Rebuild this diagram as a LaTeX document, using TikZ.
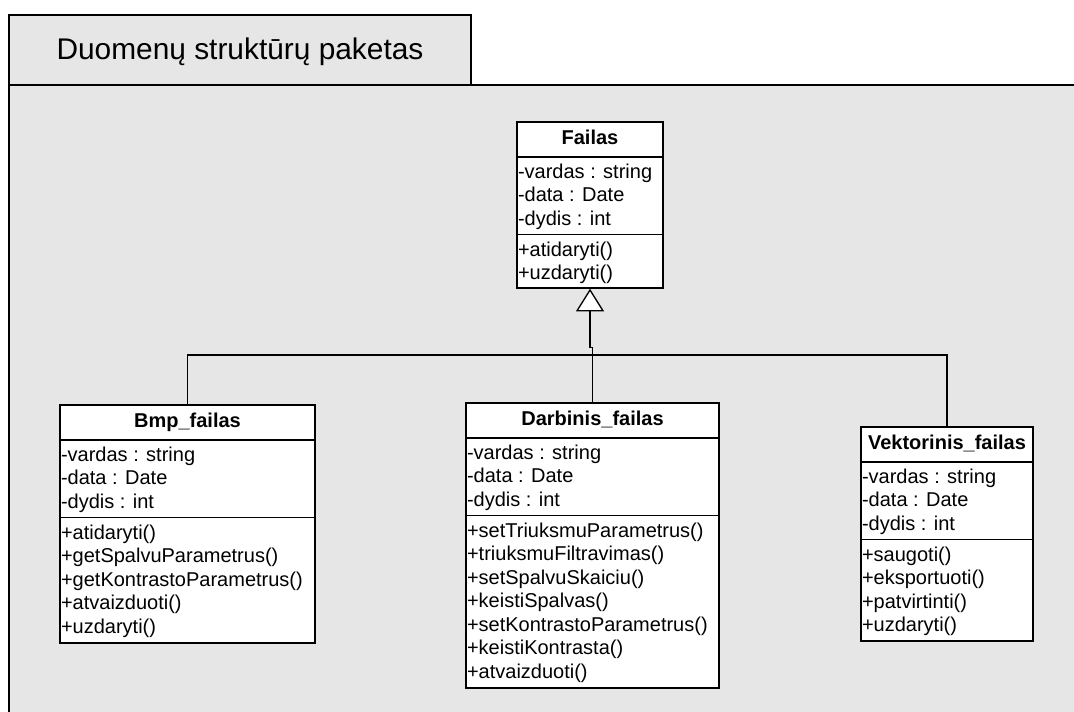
\documentclass[tikz,border=0pt]{standalone}
\usepackage{fontspec}
\setmainfont{Liberation Sans}
\usetikzlibrary{calc,fit,arrows.meta}

\definecolor{pkggray}{HTML}{E6E6E6}

\tikzset{
  pkgframe/.style={draw=black, fill=pkggray, line width=1.1pt, inner sep=0pt},
  classbox/.style={draw=black, fill=white, line width=1.1pt, inner sep=0pt},
  classline/.style={draw=black, line width=1.1pt},
  classname/.style={inner sep=0pt, font=\fontsize{15}{18}\selectfont\bfseries},
  member/.style={inner sep=0pt, anchor=base west, font=\fontsize{15}{18}\selectfont},
  link/.style={draw=black, line width=1pt},
  generalization/.style={link, -{Triangle[fill=white, width=21pt, length=17pt, line width=1pt]}}
}

% \umlclass{id}{left}{top}{right}{bottom}{name}{attributes}{operations}
\newcommand\umlclass[8]{%
  \node[classbox, fit={(#2,#3) (#4,#5)}] (#1) {};
  \node[classname, anchor=base] (#1-name) at ($(#1.north)+(0,23.5)$) {#6};
  \draw[classline] ($(#1.north west)+(0,35.5)$) -- ($(#1.north east)+(0,35.5)$);
  \draw[classline] ($(#1.north west)+(0,113)$) -- ($(#1.north east)+(0,113)$);
  \foreach \txt [count=\k] in {#7}
    \node[member] (#1-a\k) at ($(#1.north west)+(1.5,{35.5+21.5+23.7*(\k-1)})$) {\txt};
  \foreach \txt [count=\k] in {#8}
    \node[member] (#1-m\k) at ($(#1.north west)+(1.5,{113+22+23.5*(\k-1)})$) {\txt};
}

\begin{document}
\begin{tikzpicture}[x=0.75pt, y=-0.75pt]
  \useasboundingbox (0,0) rectangle (1074,711);
  \clip (0,0) rectangle (1074,711);

  % package frame with its name tab
  \node[pkgframe, fit={(9,85) (1090,730)}] (pkg) {};
  \node[pkgframe, fit={(9,15) (471,85)}] (tab) {};
  \node[anchor=base, inner sep=0pt, font=\fontsize{22.4}{26}\selectfont] (pkgname)
    at (240,59) {Duomenų struktūrų paketas};

  % classes
  \umlclass{failas}{517}{122}{663}{288}{Failas}
    {-vardas : string, -data : Date, -dydis : int}
    {+atidaryti(), +uzdaryti()}
  \umlclass{bmp}{60}{405}{315}{643}{Bmp\_failas}
    {-vardas : string, -data : Date, -dydis : int}
    {+atidaryti(), +getSpalvuParametrus(), +getKontrastoParametrus(), +atvaizduoti(), +uzdaryti()}
  \umlclass{darb}{466}{403}{719}{688}{Darbinis\_failas}
    {-vardas : string, -data : Date, -dydis : int}
    {+setTriuksmuParametrus(), +triuksmuFiltravimas(), +setSpalvuSkaiciu(), +keistiSpalvas(), +setKontrastoParametrus(), +keistiKontrasta(), +atvaizduoti()}
  \umlclass{vekt}{861}{427}{1033}{641}{Vektorinis\_failas}
    {-vardas : string, -data : Date, -dydis : int}
    {+saugoti(), +eksportuoti(), +patvirtinti(), +uzdaryti()}

  % generalization tree
  \coordinate (bus) at (darb.north |- 0,355);
  \draw[generalization] (darb.north) -- ++(0,-55) -| (failas.south);
  \draw[link] (bmp.north) |- (bus) -| (vekt.north);
\end{tikzpicture}
\end{document}
